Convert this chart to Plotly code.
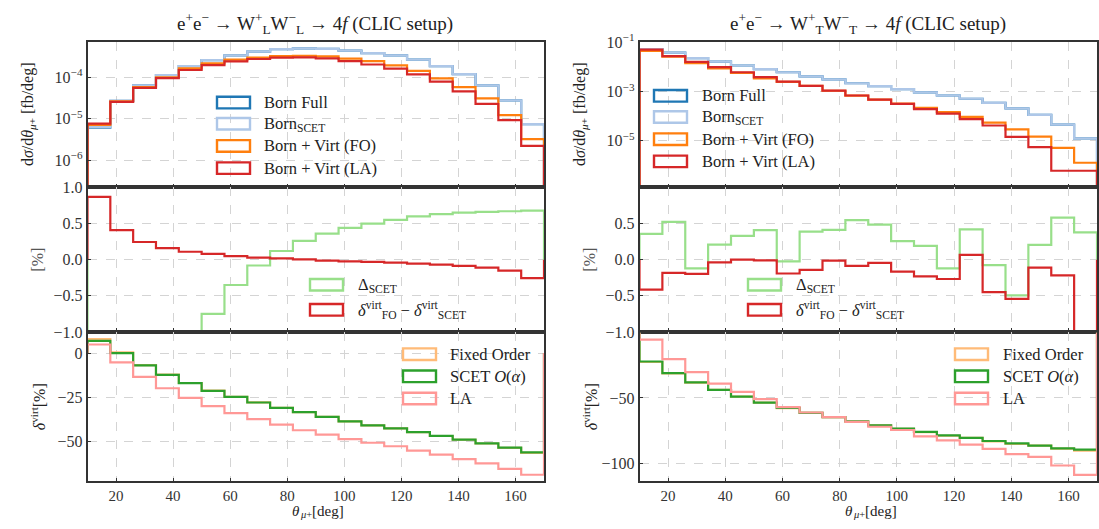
import plotly.graph_objects as go

# ---------------------------------------------------------------- data
bin_edges = list(range(10, 171, 8))          # theta_mu+ bins [deg]
theta_ticks = [20, 40, 60, 80, 100, 120, 140, 160]

# Longitudinal W pairs (left column)
born_full_L = [6.1e-6, 2.7e-5, 6.4e-5, 1.13e-4, 1.88e-4, 2.6e-4, 3.4e-4, 4.2e-4, 4.8e-4, 5.05e-4,
               4.87e-4, 4.45e-4, 3.85e-4, 3.4e-4, 2.69e-4, 1.87e-4, 1.2e-4, 6.4e-5, 2.79e-5, 7.4e-6]
born_scet_L = [6.3e-6, 2.7e-5, 6.4e-5, 1.13e-4, 1.88e-4, 2.6e-4, 3.4e-4, 4.2e-4, 4.8e-4, 5.05e-4,
               4.87e-4, 4.45e-4, 3.85e-4, 3.4e-4, 2.69e-4, 1.87e-4, 1.2e-4, 6.4e-5, 2.79e-5, 7.4e-6]
born_fo_L = [7.1e-6, 2.65e-5, 5.8e-5, 1.0e-4, 1.65e-4, 2.17e-4, 2.7e-4, 3.0e-4, 3.28e-4, 3.33e-4,
             3.22e-4, 2.84e-4, 2.46e-4, 1.95e-4, 1.43e-4, 9.5e-5, 5.8e-5, 3.1e-5, 1.22e-5, 3.2e-6]
born_la_L = [7.6e-6, 2.55e-5, 5.6e-5, 9.6e-5, 1.51e-4, 1.98e-4, 2.45e-4, 2.78e-4, 3.0e-4, 3.05e-4,
             2.89e-4, 2.46e-4, 2.05e-4, 1.62e-4, 1.18e-4, 7.9e-5, 4.6e-5, 2.29e-5, 9.3e-6, 2.2e-6]
delta_scet_L = [-6.0, -4.0, -2.8, -1.9, -1.3, -0.75, -0.35, -0.08, 0.12, 0.26,
                0.36, 0.44, 0.50, 0.55, 0.60, 0.63, 0.65, 0.66, 0.67, 0.68]
dfo_minus_dscet_L = [0.87, 0.41, 0.245, 0.16, 0.11, 0.08, 0.05, 0.03, 0.018, 0.004,
                     -0.013, -0.022, -0.031, -0.04, -0.053, -0.067, -0.085, -0.111, -0.151, -0.254]
dvirt_fo_L = [7.9, 0.4, -6.8, -12.2, -17.0, -21.4, -24.85, -28.07, -31.18, -33.6,
              -36.31, -38.82, -41.13, -42.84, -44.95, -47.17, -49.29, -51.41, -53.95, -56.75]
dvirt_scet_L = [7.0, 0.0, -7.0, -12.4, -17.1, -21.5, -24.9, -28.1, -31.2, -33.6,
                -36.3, -38.8, -41.1, -42.8, -44.9, -47.1, -49.2, -51.3, -53.8, -56.5]
dvirt_la_L = [4.9, -5.3, -13.5, -20.0, -25.5, -30.2, -34.2, -37.6, -40.7, -43.9,
              -46.4, -48.9, -51.0, -53.0, -55.5, -57.8, -60.3, -62.7, -65.8, -69.2]

# Transverse W pairs (right column)
born_full_R = [0.054, 0.0391, 0.0233, 0.0168, 0.01164, 0.00834, 0.00616, 0.00415, 0.00316, 0.0022,
               0.00167, 0.00127, 0.00094, 0.000695, 0.000514, 0.000347, 0.000207, 0.000113, 4.55e-5, 1.24e-5]
born_scet_R = [0.054, 0.0391, 0.0233, 0.0168, 0.01164, 0.00834, 0.00616, 0.00415, 0.00316, 0.0022,
               0.00167, 0.00127, 0.00094, 0.000695, 0.000514, 0.000347, 0.000207, 0.000113, 4.55e-5, 1.24e-5]
born_fo_R = [0.0455, 0.0264, 0.0144, 0.00886, 0.0058, 0.00347, 0.0025, 0.00171, 0.00109, 0.00069,
             0.000472, 0.000326, 0.00022, 0.000148, 9.4e-5, 5.46e-5, 2.88e-5, 1.48e-5, 5.13e-6, 1.27e-6]
born_la_R = [0.0514, 0.028, 0.0162, 0.01, 0.00616, 0.00391, 0.00256, 0.00173, 0.0011, 0.000695,
             0.000469, 0.000316, 0.000195, 0.000127, 7.6e-5, 4.17e-5, 1.44e-5, 5.46e-6, 6.0e-7, 6.0e-7]
delta_scet_R = [0.356, 0.524, -0.12, 0.209, 0.329, 0.409, -0.022, 0.387, 0.413, 0.547,
                0.484, 0.258, 0.191, -0.12, 0.418, -0.076, -0.493, 0.204, 0.582, 0.378]
dfo_minus_dscet_R = [-0.413, -0.182, -0.196, -0.036, 0.0, -0.009, -0.191, -0.142, -0.013, -0.086,
                     -0.044, -0.164, -0.231, -0.267, 0.067, -0.449, -0.542, -0.111, -0.218, -1.6]
dvirt_fo_R = [-22.5, -31.2, -38.3, -43.9, -49.0, -53.6, -57.8, -61.5, -64.7, -68.1,
              -71.1, -73.8, -76.3, -79.0, -80.6, -83.4, -85.3, -86.6, -88.8, -90.4]
dvirt_scet_R = [-22.1, -31.0, -38.1, -43.9, -49.0, -53.6, -57.6, -61.4, -64.7, -68.0,
                -71.1, -73.6, -76.1, -78.7, -80.7, -83.0, -84.8, -86.5, -88.6, -89.6]
dvirt_la_R = [-5.3, -20.3, -30.2, -39.1, -45.4, -51.0, -57.1, -61.2, -64.7, -68.3,
              -72.1, -74.6, -79.4, -82.5, -85.8, -89.1, -93.1, -95.2, -101.8, -108.9]

# ---------------------------------------------------------------- style
W, H = 1099, 529
FONT = "Liberation Serif"
C_FULL, C_SCET, C_FO, C_LA = "#1f77b4", "#aec7e8", "#ff7f0e", "#d62728"
C_DSCET, C_DIFF = "#98df8a", "#d62728"
C_VFO, C_VSCET, C_VLA = "#ffbb78", "#2ca02c", "#ff9896"
LW = 2.2


def px(x):
    return x / W


def py(y):
    return 1 - y / H


def step_xy(vals, base):
    """Outline of a step histogram, closed down to `base` at both ends."""
    xs, ys = [bin_edges[0]], [base]
    for i, v in enumerate(vals):
        xs += [bin_edges[i], bin_edges[i + 1]]
        ys += [v, v]
    xs.append(bin_edges[-1])
    ys.append(base)
    return xs, ys


fig = go.Figure()


def add_step(vals, color, ax, base, width=LW):
    xs, ys = step_xy(vals, base)
    fig.add_trace(go.Scatter(x=xs, y=ys, mode="lines",
                             line=dict(color=color, width=width),
                             xaxis="x" + ax, yaxis="y" + ax,
                             showlegend=False, hoverinfo="skip"))


# left column: axes 1 (top), 2 (ratio), 3 (virtual); right column: 4, 5, 6
for a, full, scet, fo, la in (("1", born_full_L, born_scet_L, born_fo_L, born_la_L),
                              ("4", born_full_R, born_scet_R, born_fo_R, born_la_R)):
    for vals, col in ((full, C_FULL), (scet, C_SCET), (fo, C_FO), (la, C_LA)):
        add_step(vals, col, a, 1e-12)

for a, dsc, diff in (("2", delta_scet_L, dfo_minus_dscet_L), ("5", delta_scet_R, dfo_minus_dscet_R)):
    add_step(dsc, C_DSCET, a, 0.0)
    add_step(diff, C_DIFF, a, 0.0)

for a, fo, sc, la in (("3", dvirt_fo_L, dvirt_scet_L, dvirt_la_L), ("6", dvirt_fo_R, dvirt_scet_R, dvirt_la_R)):
    add_step(fo, C_VFO, a, 0.0)
    add_step(sc, C_VSCET, a, 0.0)
    add_step(la, C_VLA, a, 0.0)

# ---------------------------------------------------------------- axes
col_x = {"L": [px(87.5), px(544)], "R": [px(639.5), px(1097)]}
row_y = {"top": [py(184), py(33)], "mid": [py(334), py(184)], "bot": [py(489), py(334)]}

common = dict(showline=True, mirror=True, linecolor="#333333", linewidth=1.6,
              showgrid=True, gridcolor="#d4d4d4", gridwidth=0.8, griddash="dash",
              ticks="inside", ticklen=4, tickcolor="#333333", zeroline=False,
              tickfont=dict(family=FONT, size=16, color="#333333"))

layout_axes = {}
panels = [("1", "L", "top"), ("2", "L", "mid"), ("3", "L", "bot"),
          ("4", "R", "top"), ("5", "R", "mid"), ("6", "R", "bot")]
for a, c, r in panels:
    xname = "xaxis" if a == "1" else "xaxis" + a
    yname = "yaxis" if a == "1" else "yaxis" + a
    layout_axes[xname] = dict(common, domain=col_x[c], range=[10, 170], anchor="y" + a,
                              tickvals=theta_ticks,
                              showticklabels=(r == "bot"),
                              tickfont=dict(family=FONT, size=15, color="#333333"))
    layout_axes[yname] = dict(common, domain=row_y[r], anchor="x" + a)


def sup_pow(e):
    return "10<sup>\u2212%d</sup>" % e


layout_axes["yaxis"].update(type="log", range=[-6.66, -3.14],
                            tickvals=[1e-6, 1e-5, 1e-4],
                            ticktext=[sup_pow(6), sup_pow(5), sup_pow(4)])
layout_axes["yaxis4"].update(type="log", range=[-6.9, -0.97],
                             tickvals=[1e-5, 1e-3, 1e-1],
                             ticktext=[sup_pow(5), sup_pow(3), sup_pow(1)])
layout_axes["yaxis2"].update(range=[-1.0, 1.0], tickvals=[-1, -0.5, 0, 0.5, 1.0],
                             ticktext=["\u22121.0", "\u22120.5", "0.0", "0.5", "1.0"])
layout_axes["yaxis5"].update(range=[-1.0, 1.0], tickvals=[-1, -0.5, 0, 0.5],
                             ticktext=["\u22121.0", "\u22120.5", "0.0", "0.5"])
layout_axes["yaxis3"].update(range=[-73, 12], tickvals=[-50, -25, 0],
                             ticktext=["\u221250", "\u221225", "0"])
layout_axes["yaxis6"].update(range=[-114, 0.5], tickvals=[-100, -50],
                             ticktext=["\u2212100", "\u221250"])

# ---------------------------------------------------------------- text
ann = []
shapes = []


def text(x, y, s, size=16, angle=0, xanchor="center", color="#222222"):
    ann.append(dict(x=px(x), y=py(y), xref="paper", yref="paper", text=s,
                    showarrow=False, textangle=angle, xanchor=xanchor, yanchor="middle",
                    borderpad=0, font=dict(family=FONT, size=size, color=color)))


text(315, 14, "e<sup>+</sup>e<sup>\u2212</sup> \u2192 W<sup>+</sup><sub>L</sub>W<sup>\u2212</sup><sub>L</sub>"
              " \u2192 4<i>f</i> (CLIC setup)", size=19)
text(868, 14, "e<sup>+</sup>e<sup>\u2212</sup> \u2192 W<sup>+</sup><sub>T</sub>W<sup>\u2212</sup><sub>T</sub>"
              " \u2192 4<i>f</i> (CLIC setup)", size=19)

ylab_top = "d<i>\u03c3</i>/d<i>\u03b8</i><sub><i>\u03bc</i>+</sub> [fb/deg]"
ylab_mid = "[%]"
ylab_bot = "<i>\u03b4</i><sup>virt</sup>[%]"
for x0 in (0, 552):
    text(x0 + 28, 108, ylab_top, size=16, angle=-90)
    text(x0 + 38, 259, ylab_mid, size=16, angle=-90, color="#555555")
    text(x0 + 38, 412, ylab_bot, size=16, angle=-90)

# x label theta_mu+ [deg], set in three pieces so the subscript sits low
for xc in (315, 868):
    x0 = xc - 24
    text(x0, 520, "<i>\u03b8</i>", size=15, xanchor="left")
    text(x0 + 8, 523, "<i>\u03bc</i>+", size=10.5, xanchor="left")
    text(x0 + 20, 520, "[deg]", size=15, xanchor="left")


def legend(x_handle, x_text, rows, entries):
    for (label, color), yc in zip(entries, rows):
        shapes.append(dict(type="rect", xref="paper", yref="paper",
                           x0=px(x_handle), x1=px(x_handle + 33),
                           y0=py(yc + 6), y1=py(yc - 6),
                           line=dict(color=color, width=2.4), fillcolor="rgba(0,0,0,0)"))
        text(x_text, yc, label, size=16.5, xanchor="left")


top_entries = [("Born Full", C_FULL), ("Born<sub>SCET</sub>", C_SCET),
               ("Born + Virt (FO)", C_FO), ("Born + Virt (LA)", C_LA)]
mid_entries = [("\u0394<sub>SCET</sub>", C_DSCET),
               ("<i>\u03b4</i><sup>virt</sup><sub>FO</sub> \u2212 <i>\u03b4</i><sup>virt</sup><sub>SCET</sub>", C_DIFF)]
bot_entries = [("Fixed Order", C_VFO), ("SCET <i>O</i>(<i>\u03b1</i>)", C_VSCET), ("LA", C_VLA)]

legend(217, 263, [96, 118, 141, 164], top_entries)
legend(654, 701, [89, 111, 134, 157], top_entries)
legend(310, 357, [285, 311], mid_entries)
legend(748, 795, [285, 311], mid_entries)
legend(403, 449, [357, 380, 403], bot_entries)
legend(955, 1002, [357, 380, 403], bot_entries)

fig.update_layout(width=W, height=H, autosize=False,
                  margin=dict(l=0, r=0, t=0, b=0),
                  paper_bgcolor="white", plot_bgcolor="white",
                  showlegend=False, annotations=ann, shapes=shapes,
                  **layout_axes)

fig.write_html("out.html")
